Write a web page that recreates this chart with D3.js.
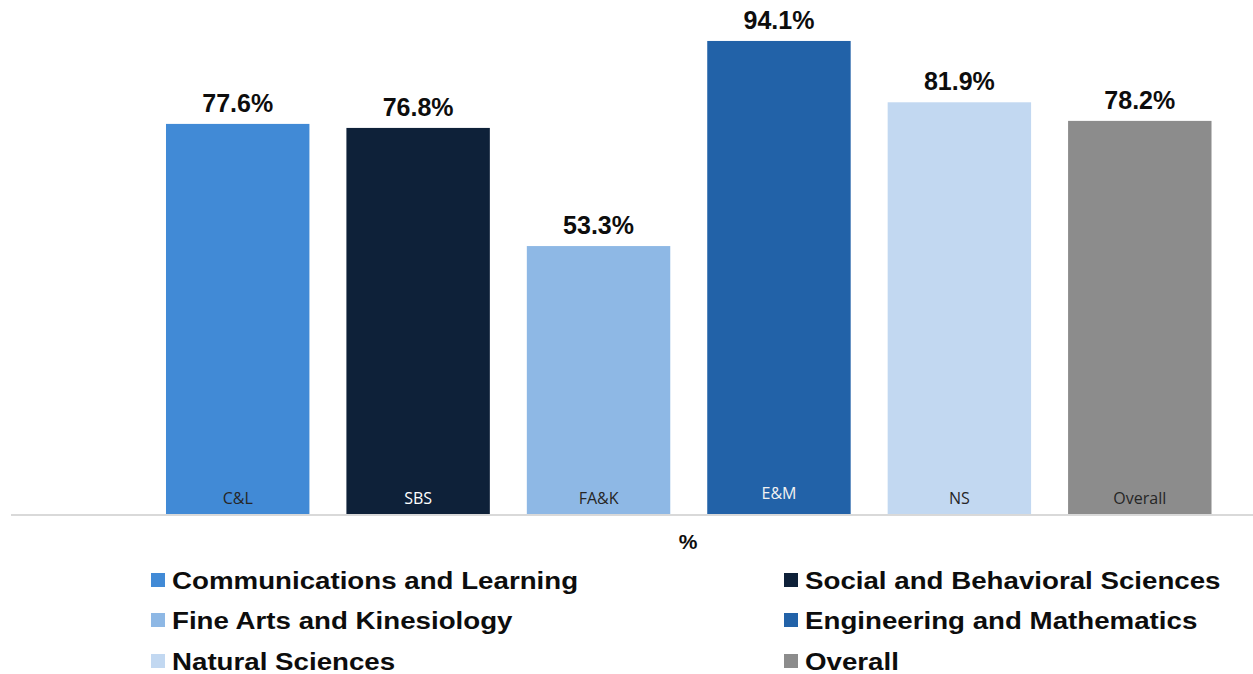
<!DOCTYPE html>
<html><head><meta charset="utf-8">
<script src="https://cdn.jsdelivr.net/npm/d3@7"></script>
<style>body{margin:0;background:#fff;}svg{display:block;}</style>
</head><body>
<svg id="chart" width="1253" height="674"></svg>
<script>
const categories = ["C&L","SBS","FA&K","E&M","NS","Overall"];
const fullNames = ["Communications and Learning","Social and Behavioral Sciences","Fine Arts and Kinesiology","Engineering and Mathematics","Natural Sciences","Overall"];
const values = [77.6,76.8,53.3,94.1,81.9,78.2];
const colors = ["#418AD6","#0E2139","#8EB8E5","#2262A8","#C2D8F1","#8C8C8C"];
const innerLabelColors = ["#262626","#FFFFFF","#262626","#F2F2F2","#262626","#262626"];
const axisTitle = "%";

const svg = d3.select("#chart");
const x = d3.scaleBand().domain(categories).range([147.5,1230]).paddingInner(0.205).paddingOuter(0.1025);
const y = d3.scaleLinear().domain([0,100]).range([514,11.3]);

svg.append("line").attr("x1",11).attr("x2",1253).attr("y1",y(0)+1).attr("y2",y(0)+1)
  .attr("stroke","#D9D9D9").attr("stroke-width",2);

const g = svg.append("g");
g.selectAll("rect").data(categories).join("rect")
  .attr("x",d=>x(d)).attr("width",x.bandwidth())
  .attr("y",(d,i)=>y(values[i])).attr("height",(d,i)=>y(0)-y(values[i]))
  .attr("fill",(d,i)=>colors[i]);

g.selectAll("text.val").data(categories).join("text").attr("class","val")
  .attr("x",d=>x(d)+x.bandwidth()/2).attr("y",(d,i)=>y(values[i])-12)
  .attr("text-anchor","middle").attr("font-family","Liberation Sans, Arial, sans-serif")
  .attr("font-weight","bold").attr("font-size",25).attr("fill","#0D0D0D")
  .text((d,i)=>values[i].toFixed(1)+"%");

g.selectAll("text.cat").data(categories).join("text").attr("class","cat")
  .attr("x",d=>x(d)+x.bandwidth()/2).attr("y",(d,i)=>i===3?499:503.5)
  .attr("text-anchor","middle").attr("font-family","Open Sans, sans-serif")
  .attr("font-size",16).attr("fill",(d,i)=>innerLabelColors[i])
  .text(d=>d);

svg.append("text").attr("x",688).attr("y",549).attr("text-anchor","middle")
  .attr("font-family","Liberation Sans, Arial, sans-serif").attr("font-weight","bold")
  .attr("font-size",21).attr("fill","#0D0D0D").text(axisTitle);

const legend = svg.append("g");
const lg = legend.selectAll("g").data(fullNames).join("g")
  .attr("transform",(d,i)=>`translate(${i%2===0?151:784},${[580,620,661][Math.floor(i/2)]})`);
lg.append("rect").attr("x",0).attr("y",-7).attr("width",14).attr("height",14).attr("fill",(d,i)=>colors[i]);
lg.append("text").attr("transform","translate(21,9) scale(1.154,1)").attr("font-family","Liberation Sans, Arial, sans-serif")
  .attr("font-weight","bold").attr("font-size",24).attr("fill","#0D0D0D").text(d=>d);
</script>
</body></html>
